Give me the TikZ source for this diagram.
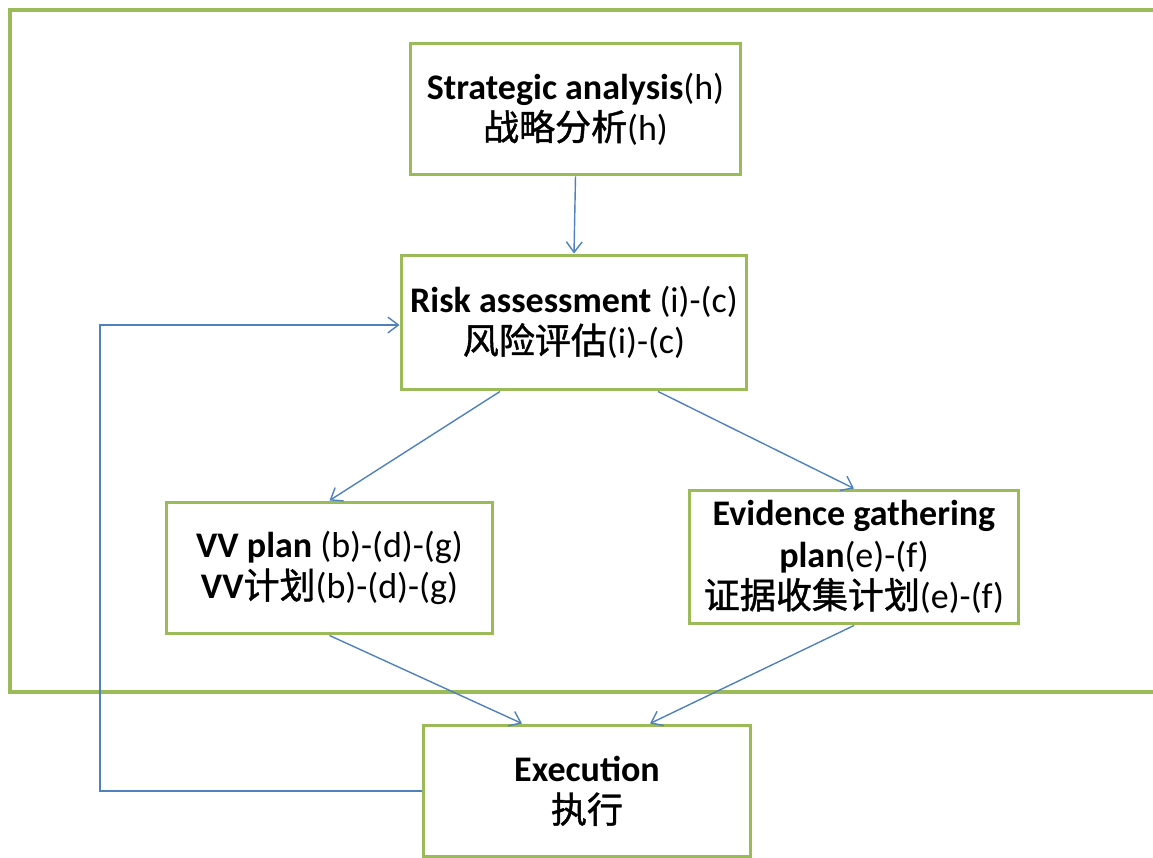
\documentclass[tikz,border=0pt]{standalone}
\usepackage{fontspec}
\setmainfont{Carlito}
\newfontfamily\cjk[FakeBold=1.2]{Noto Sans CJK SC}
\usepackage{tikz}
\usetikzlibrary{arrows.meta,positioning,calc}
\definecolor{framegreen}{HTML}{9BBB59}
\definecolor{linkblue}{HTML}{4F81BD}

\begin{document}
\begin{tikzpicture}[x=0.02cm, y=-0.02cm,
    font=\fontsize{20.5}{23.5}\selectfont,
    stage/.style={draw=framegreen, line width=1.7pt, fill=white, align=center,
                  inner sep=2pt},
    link/.style={draw=linkblue, line width=0.8pt, -{Straight Barb[length=6pt,width=9pt]}}]
  \useasboundingbox (0,0) rectangle (1153,858);
  % outer frame (runs off the right edge)
  \draw[framegreen, line width=2pt] (1160,10) -| (10,692) -- (1160,692);
  % stages
  \node[stage, minimum width=6.62cm, minimum height=2.64cm] (strat) at (575.5,109)
    {\textbf{Strategic analysis}(h)\\{\cjk 战略分析}(h)};
  \node[stage, minimum width=6.92cm, minimum height=2.7cm] (risk) at (574,322.5)
    {\textbf{Risk assessment} (i)-(c)\\{\cjk 风险评估}(i)-(c)};
  \node[stage, minimum width=6.54cm, minimum height=2.64cm] (vv) at (329.5,568)
    {\textbf{VV plan} (b)-(d)-(g)\\\textbf{VV}{\cjk 计划}(b)-(d)-(g)};
  \node[stage, minimum width=6.6cm, minimum height=2.68cm] (evid) at (854,557)
    {\textbf{Evidence gathering}\\\textbf{plan}(e)-(f)\\{\cjk 证据收集计划}(e)-(f)};
  \node[stage, minimum width=6.56cm, minimum height=2.64cm] (exec) at (587,791)
    {\textbf{Execution}\\{\cjk 执行}};
  % connectors
  \draw[link] (strat.south) -- (risk.north);
  \draw[link] ([xshift=-1.48cm]risk.south) -- (vv.north);
  \draw[link] ([xshift=1.68cm]risk.south) -- (evid.north);
  \draw[link] (vv.south) -- ([xshift=-1.3cm]exec.north);
  \draw[link] (evid.south) -- ([xshift=1.26cm]exec.north);
  \coordinate (loop) at (100,325);
  \draw[link] (exec.west) -| (loop) -- (loop -| risk.west);
\end{tikzpicture}
\end{document}
